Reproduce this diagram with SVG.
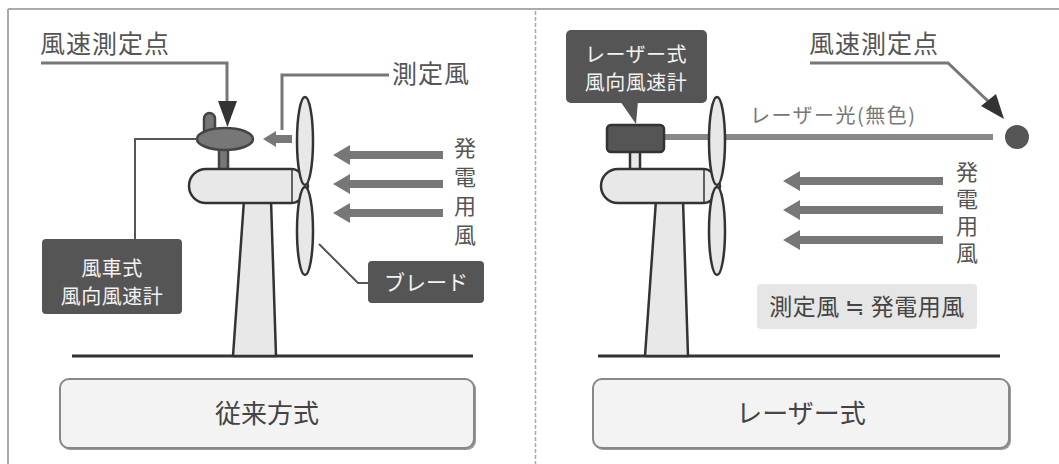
<svg xmlns="http://www.w3.org/2000/svg" width="1059" height="464" viewBox="0 0 1059 464">
  <style>
    text { font-family: "Noto Sans CJK JP", "Noto Sans", sans-serif; }
    .lbl { fill: #555; font-size: 25px; letter-spacing: 1px; }
    .wht { fill: #f2f2f2; font-size: 21px; text-anchor: middle; }
    .wht2 { fill: #f2f2f2; font-size: 20px; text-anchor: middle; letter-spacing: 0.5px; }
    .vt { fill: #555; font-size: 22px; writing-mode: vertical-rl; }
    .ttl { fill: #444; font-size: 26px; text-anchor: middle; }
    .lead { fill: none; stroke: #777; stroke-width: 3; }
    .thin { fill: none; stroke: #555; stroke-width: 2; }
    .part { fill: #e8e8e8; stroke: #333; stroke-width: 2.5; stroke-linejoin: round; }
    .dark { fill: #777; stroke: #444; stroke-width: 2.5; }
    .wind { fill: #777; }
    .tag { fill: #555; }
    .ground { stroke: #333; stroke-width: 3; }
    .panel { fill: #f3f3f3; stroke: #888; stroke-width: 2; }
  </style>
  <defs>
    <!-- wind arrows, tip at origin pointing left -->
    <path id="windShort" d="M0 0 L17 -10 L17 -4 L110 -4 L110 4 L17 4 L17 10 Z"/>
    <path id="windLong" d="M0 0 L17 -10 L17 -4 L160 -4 L160 4 L17 4 L17 10 Z"/>
    <!-- wind turbine: tower, nacelle, blades -->
    <g id="turbine">
      <path class="part" d="M244 200 L271 200 L276 356 L233 356 Z"/>
      <path class="part" d="M206 169 H292 C300 169 307 180 308 186 C307 192 300 203 292 203 H206 A17 17 0 0 1 206 169 Z"/>
      <line x1="292" y1="170" x2="292" y2="202" stroke="#333" stroke-width="1.5"/>
      <ellipse class="part" cx="305" cy="141" rx="8" ry="44"/>
      <ellipse class="part" cx="305" cy="231" rx="8" ry="44"/>
    </g>
  </defs>

  <!-- outer frame and separator -->
  <g id="frame">
    <line x1="8" y1="9" x2="1059" y2="9" stroke="#aaa" stroke-width="2"/>
    <line x1="8" y1="9" x2="8" y2="464" stroke="#aaa" stroke-width="2"/>
    <line x1="535.5" y1="11" x2="535.5" y2="464" stroke="#aaa" stroke-width="1.5" stroke-dasharray="4 2"/>
  </g>

  <!-- ===== conventional method ===== -->
  <g id="ground-left"><line class="ground" x1="72" y1="356" x2="473" y2="356"/></g>

  <g id="turbine-left">
    <rect class="dark" x="219" y="146" width="9" height="25"/>
    <rect class="dark" x="204" y="113" width="11" height="24" rx="5.5"/>
    <ellipse class="dark" cx="225" cy="139" rx="28" ry="11"/>
    <use href="#turbine"/>
  </g>

  <g id="connectors-left">
    <polyline class="lead" points="41,63 227,63 227,105"/>
    <path d="M218 101 L237 101 L227.5 127 Z" fill="#333"/>
    <polyline class="lead" points="389,75 282,75 282,130"/>
    <path class="wind" d="M263 139 L276 131 L276 135 L292 135 L292 143 L276 143 L276 147 Z"/>
    <polyline class="thin" points="197,139 135,139 135,240"/>
    <polyline class="thin" points="319,244 358,283 368,283"/>
  </g>

  <g id="label-point-left"><text class="lbl" x="40" y="53">風速測定点</text></g>
  <g id="label-measured-left"><text class="lbl" x="392" y="83" font-size="24" letter-spacing="2">測定風</text></g>

  <g id="wind-left" class="wind">
    <use href="#windShort" x="333" y="155"/>
    <use href="#windShort" x="333" y="184"/>
    <use href="#windShort" x="333" y="213"/>
  </g>
  <g id="label-gen-left">
    <text class="vt" x="465" y="137" letter-spacing="7">発電用風</text>
  </g>

  <g id="tag-cup">
    <rect class="tag" x="42" y="239" width="140" height="75" rx="4"/>
    <text class="wht2" x="112" y="276">風車式</text>
    <text class="wht2" x="112" y="304">風向風速計</text>
  </g>
  <g id="tag-blade">
    <rect class="tag" x="368" y="261" width="116" height="42" rx="4"/>
    <text class="wht" x="426" y="290">ブレード</text>
  </g>

  <g id="panel-left">
    <rect x="61" y="380" width="415" height="70" rx="9" fill="#999"/>
    <rect class="panel" x="60" y="379" width="414" height="69" rx="9"/>
    <text class="ttl" x="267" y="423">従来方式</text>
  </g>

  <!-- ===== laser method ===== -->
  <g id="ground-right"><line class="ground" x1="598" y1="356" x2="1000" y2="356"/></g>

  <g id="laser-beam">
    <line x1="660" y1="137" x2="993" y2="137" stroke="#888" stroke-width="6"/>
    <circle cx="1017" cy="137" r="12" fill="#555"/>
  </g>

  <g id="turbine-right">
    <rect class="part" x="630" y="150" width="10" height="21" stroke-width="2"/>
    <rect x="607" y="125" width="57" height="27" rx="4" fill="#555" stroke="#333" stroke-width="2.5"/>
    <use href="#turbine" transform="translate(412 0)"/>
  </g>

  <g id="tag-laser">
    <rect class="tag" x="566" y="30" width="141" height="73" rx="5"/>
    <path class="tag" d="M620 101 L638 101 L636 124 Z"/>
    <text class="wht2" x="636" y="62">レーザー式</text>
    <text class="wht2" x="636" y="90">風向風速計</text>
  </g>

  <g id="connectors-right">
    <polyline class="lead" points="810,63 948,63 990,103" stroke="#444" stroke-width="2"/>
    <path d="M981 106 L996 94 L1004 119 Z" fill="#333"/>
  </g>

  <g id="label-point-right"><text class="lbl" x="809" y="53">風速測定点</text></g>
  <g id="label-beam"><text x="750" y="123" fill="#777" font-size="20" letter-spacing="1.5">レーザー光(無色)</text></g>

  <g id="wind-right" class="wind">
    <use href="#windLong" x="783" y="181"/>
    <use href="#windLong" x="783" y="210"/>
    <use href="#windLong" x="783" y="240"/>
  </g>
  <g id="label-gen-right">
    <text class="vt" x="967" y="161" letter-spacing="5">発電用風</text>
  </g>

  <g id="note-equal">
    <rect x="757" y="284" width="220" height="45" rx="4" fill="#e6e6e6"/>
    <text x="867" y="315" fill="#444" font-size="23" text-anchor="middle" letter-spacing="0.5">測定風 ≒ 発電用風</text>
  </g>

  <g id="panel-right">
    <rect x="594" y="380" width="417" height="70" rx="9" fill="#999"/>
    <rect class="panel" x="593" y="379" width="416" height="69" rx="9"/>
    <text class="ttl" x="801" y="423">レーザー式</text>
  </g>
</svg>
